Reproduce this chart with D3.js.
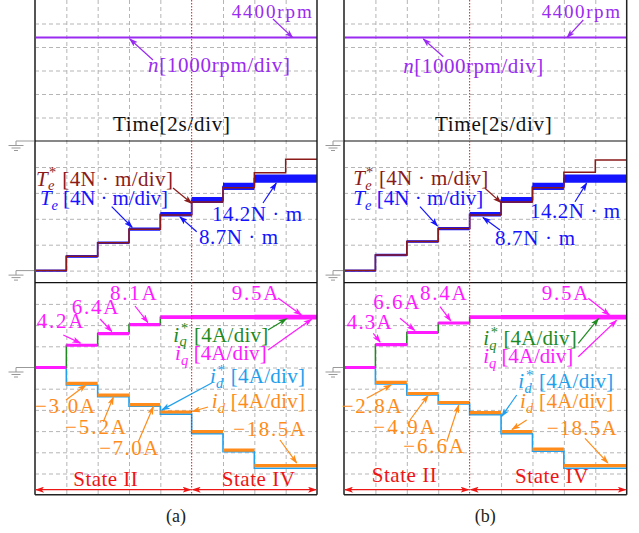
<!DOCTYPE html>
<html>
<head>
<meta charset="utf-8">
<script src="https://cdn.jsdelivr.net/npm/d3@7"></script>
<style>
  html, body { margin: 0; padding: 0; background: #fff; }
  svg { display: block; }
</style>
</head>
<body>
<svg id="chart" width="639" height="533" font-family="'Liberation Serif', 'DejaVu Serif', serif"></svg>
<script>
// ---- time base: 2 s per division, 9 divisions ----
const timeDomain = [0, 18];
const gridTimes = [2, 4, 6, 8, 10, 12, 14, 16];
const stepTimes = [0, 2, 4, 6, 8, 10, 12, 14, 16];
const endTime = 18;

// ---- speed n [rpm] ----
const speedTimes = [0, 18];
const speedA = [4400, 4400];
const speedB = [4400, 4400];

// ---- torque [N·m], one value per step interval ----
const teRefA = [0, 2.2, 4.3, 6.4, 8.6, 10.6, 12.8, 15.1, 17.2];
const teA    = [0, 2.2, 4.3, 6.4, 8.7, 10.9, 13.0, 14.2, 14.2];
const teRefB = [0, 2.4, 4.5, 6.5, 8.6, 10.6, 12.8, 15.2, 17.1];
const teB    = [0, 2.4, 4.5, 6.5, 8.7, 10.9, 13.0, 14.2, 14.2];
const teRipple = [0.15, 0.2, 0.2, 0.25, 0.35, 0.45, 0.55, 0.65, 0.65];

// ---- dq currents [A], one value per step interval ----
const iqA    = [0, 4.2, 6.4, 8.1, 9.5, 9.5, 9.5, 9.5, 9.5];
const iqRefA = [0, 4.2, 6.4, 8.1, 9.5, 9.4, 9.3, 9.3, 9.3];
const idA    = [0, -3.0, -5.2, -7.0, -8.4, -12.1, -15.6, -18.5, -18.5];
const idRefA = [0, -3.3, -5.5, -7.3, -8.8, -12.5, -15.9, -19.0, -19.0];
const iqB    = [0, 4.3, 6.6, 8.4, 9.5, 9.5, 9.5, 9.5, 9.5];
const iqRefB = [0, 4.3, 6.6, 8.4, 9.5, 9.4, 9.3, 9.3, 9.3];
const idB    = [0, -2.8, -4.9, -6.6, -8.5, -12.1, -15.4, -18.5, -18.5];
const idRefB = [0, -3.1, -5.2, -6.9, -8.9, -12.5, -15.8, -19.0, -19.0];
const iqRipple = [0.3, 0.3, 0.3, 0.3, 0.35, 0.4, 0.4, 0.45, 0.45];
const idRipple = [0.3, 0.3, 0.3, 0.3, 0.3, 0.3, 0.3, 0.3, 0.3];

// ---- scope grid per channel ----
const speedGrid = [1000, 2000, 3000, 4000, 5000];
const teGrid = [0, 4, 8, 12, 16];
const iGrid = [12, 8, 4, 0, -4, -8, -12, -16, -20];

// mode boundary time for each panel
const stateSwitchA = 10;
const stateSwitchB = 8;

// ---- vertical channel scales (shared by both panels) ----
const ySpeed = d3.scaleLinear().domain([0, 1000]).range([141, 117.5]);
const yTe = d3.scaleLinear().domain([0, 4]).range([270.6, 244.7]);
const yI = d3.scaleLinear().domain([0, 4]).range([367.5, 346.3]);
const secTop = 0, div1 = ySpeed(0), div2 = yI(16), secBottom = yI(-24);

const FONT = "'Liberation Serif', 'DejaVu Serif', serif";
const COL = {
  speed: "#9a2bf0", teRef: "#8b1a1a", te: "#1414ff",
  iq: "#ff1aff", iqRef: "#1f8a1f", idRef: "#22a0ee", id: "#ff8c1a",
  state: "#ee1515", grid: "#b5b5b5", ground: "#999"
};

const svg = d3.select("#chart");
const defs = svg.append("defs");
const markerIds = {};
function arrowHead(color) {
  if (markerIds[color]) return markerIds[color];
  const id = "ah" + Object.keys(markerIds).length;
  defs.append("marker").attr("id", id)
    .attr("viewBox", "0 -3 9 6").attr("refX", 8).attr("refY", 0)
    .attr("markerWidth", 9).attr("markerHeight", 6)
    .attr("markerUnits", "userSpaceOnUse")
    .attr("orient", "auto-start-reverse")
    .append("path").attr("d", "M0,-3 L9,0 L0,3 L2.2,0 Z").attr("fill", color);
  markerIds[color] = id;
  return id;
}

const fmt1 = d3.format(".1f");

// text with italic symbols, subscripts and superscripts
function richText(g, x, y, parts, color, width, size) {
  const t = g.append("text").attr("x", x).attr("y", y)
    .attr("font-family", FONT)
    .attr("fill", color).attr("font-size", size || 21);
  let shift = 0;
  parts.forEach(p => {
    const target = p.sub ? 4.5 : p.sup ? -8.5 : 0;
    const ts = t.append("tspan").text(p.s).attr("dy", target - shift);
    if (p.dx) ts.attr("dx", p.dx);
    if (p.sub || p.sup) ts.attr("font-size", 14.5);
    if (p.it) ts.attr("font-style", "italic");
    shift = target;
  });
  if (width) t.attr("textLength", width).attr("lengthAdjust", "spacing");
  return t;
}

function stepPoints(values) {
  const pts = values.map((v, i) => [stepTimes[i], v]);
  pts.push([endTime, values[values.length - 1]]);
  return pts;
}

function styleGrid(sel) {
  sel.select(".domain").remove();
  sel.selectAll(".tick line").attr("stroke", COL.grid).attr("stroke-width", 1)
    .attr("stroke-dasharray", "4,3");
}

function drawPanel(cfg) {
  const { x0, x1, stateT, gOff, sp, te, teRef, iq, iqRef, id, idRef, notes, tag } = cfg;
  const x = d3.scaleLinear().domain(timeDomain).range([x0, x1]);
  const w = x1 - x0;
  const g = svg.append("g");

  // dashed grid
  g.append("g").attr("transform", `translate(${x0},0)`)
    .call(d3.axisLeft(ySpeed).tickValues(speedGrid).tickSize(-w).tickFormat("")).call(styleGrid);
  g.append("g").attr("transform", `translate(${x0},0)`)
    .call(d3.axisLeft(yTe).tickValues(teGrid).tickSize(-w).tickFormat("")).call(styleGrid);
  g.append("g").attr("transform", `translate(${x0},0)`)
    .call(d3.axisLeft(yI).tickValues(iGrid).tickSize(-w).tickFormat("")).call(styleGrid);
  g.append("g").attr("transform", `translate(0,${secTop})`)
    .call(d3.axisTop(x).tickValues(gridTimes.filter(t => t !== stateT))
      .tickSize(-(secBottom - secTop)).tickFormat("")).call(styleGrid);

  // ground (zero) markers
  [ySpeed(0), yTe(0), yI(0)].forEach(y0 => {
    const gx = x0 - gOff;
    const gg = g.append("g").attr("stroke", COL.ground).attr("stroke-width", 1).attr("fill", "none");
    gg.append("path").attr("d", `M${x0},${y0}H${gx}V${y0 + 4.5}`);
    gg.append("line").attr("x1", gx - 7.5).attr("x2", gx + 7.5).attr("y1", y0 + 4.5).attr("y2", y0 + 4.5);
    gg.append("line").attr("x1", gx - 4.5).attr("x2", gx + 4.5).attr("y1", y0 + 7).attr("y2", y0 + 7);
    gg.append("line").attr("x1", gx - 2).attr("x2", gx + 2).attr("y1", y0 + 9.5).attr("y2", y0 + 9.5);
  });

  // speed trace
  g.append("path").datum(speedTimes.map((t, i) => [t, sp[i]]))
    .attr("d", d3.line().x(d => x(d[0])).y(d => ySpeed(d[1])))
    .attr("fill", "none").attr("stroke", COL.speed).attr("stroke-width", 2);

  const stepLine = ys => d3.line().curve(d3.curveStepAfter).x(d => x(d[0])).y(d => ys(d[1]));
  const band = (ys, vals, rip) => {
    const pts = vals.map((v, i) => [stepTimes[i], v, rip[i]]);
    pts.push([endTime, vals[vals.length - 1], rip[rip.length - 1]]);
    return d3.area().curve(d3.curveStepAfter).x(d => x(d[0]))
      .y0(d => ys(d[1] - d[2])).y1(d => ys(d[1] + d[2]))(pts);
  };

  // torque: measured band, then reference on top
  g.append("path").attr("d", band(yTe, te, teRipple)).attr("fill", COL.te);
  g.append("path").datum(stepPoints(te)).attr("d", stepLine(yTe))
    .attr("fill", "none").attr("stroke", COL.te).attr("stroke-width", 1.6);
  g.append("path").datum(stepPoints(teRef)).attr("d", stepLine(yTe))
    .attr("fill", "none").attr("stroke", COL.teRef).attr("stroke-width", 1.5);

  // currents: references underneath, measured bands over them (q-axis drawn last)
  g.append("path").datum(stepPoints(idRef)).attr("d", stepLine(yI))
    .attr("fill", "none").attr("stroke", COL.idRef).attr("stroke-width", 1.6);
  g.append("path").attr("d", band(yI, id, idRipple)).attr("fill", COL.id);
  g.append("path").datum(stepPoints(iqRef)).attr("d", stepLine(yI))
    .attr("fill", "none").attr("stroke", COL.iqRef).attr("stroke-width", 1.5);
  g.append("path").attr("d", band(yI, iq, iqRipple)).attr("fill", COL.iq);

  // frame and channel separators
  g.append("line").attr("x1", x0).attr("x2", x0).attr("y1", secTop).attr("y2", secBottom)
    .attr("stroke", "#555").attr("stroke-width", 2);
  g.append("line").attr("x1", x1).attr("x2", x1).attr("y1", secTop).attr("y2", secBottom)
    .attr("stroke", "#222").attr("stroke-width", 1.5);
  g.append("line").attr("x1", x0).attr("x2", x1).attr("y1", secBottom).attr("y2", secBottom)
    .attr("stroke", "#222").attr("stroke-width", 1.5);
  [div1, div2].forEach(yy => g.append("line").attr("x1", x0).attr("x2", x1)
    .attr("y1", yy).attr("y2", yy).attr("stroke", "#111").attr("stroke-width", 1.2));

  // operating-state boundary
  const xs = x(stateT);
  g.append("line").attr("x1", xs).attr("x2", xs).attr("y1", secTop).attr("y2", secBottom)
    .attr("stroke", COL.state).attr("stroke-width", 1).attr("stroke-dasharray", "1.5,1.5");
  const am = arrowHead(COL.state);
  const yArr = secBottom - 5;
  [[x0 + 1, xs - 1], [xs + 1, x1 - 1]].forEach(([a, b]) => {
    g.append("line").attr("x1", a).attr("x2", b).attr("y1", yArr).attr("y2", yArr)
      .attr("stroke", COL.state).attr("stroke-width", 1.2)
      .attr("marker-start", `url(#${am})`).attr("marker-end", `url(#${am})`);
  });

  // annotations
  const yOf = { speed: ySpeed, te: yTe, i: yI };
  notes.forEach(n => {
    const parts = typeof n.text === "string" ? [{ s: n.text }] : n.text;
    richText(g, x0 + n.lx, n.ly, parts, n.color, n.w, n.size);
    if (n.tail) {
      g.append("line")
        .attr("x1", x0 + n.tail[0]).attr("y1", n.tail[1])
        .attr("x2", x(n.tip[0])).attr("y2", yOf[n.sec](n.tip[1]))
        .attr("stroke", n.color).attr("stroke-width", 1.2)
        .attr("marker-end", `url(#${arrowHead(n.color)})`);
    }
  });

  g.append("text").attr("x", (x0 + x1) / 2).attr("y", 521.5).attr("text-anchor", "middle")
    .attr("font-family", FONT).attr("font-size", 18).attr("fill", "#222").text(tag);
}

const teRefLabel = [{ s: "T", it: true }, { s: "e", it: true, sub: true }, { s: "*", sup: true, dx: -6 }, { s: " [4N · m/div]" }];
const teLabel = [{ s: "T", it: true }, { s: "e", it: true, sub: true }, { s: " [4N · m/div]" }];
const iqRefLabel = [{ s: "i", it: true }, { s: "q", it: true, sub: true }, { s: "*", sup: true, dx: -6 }, { s: " [4A/div]" }];
const iqLabel = [{ s: "i", it: true }, { s: "q", it: true, sub: true }, { s: " [4A/div]" }];
const idRefLabel = [{ s: "i", it: true }, { s: "d", it: true, sub: true }, { s: "*", sup: true, dx: -6 }, { s: " [4A/div]" }];
const idLabel = [{ s: "i", it: true }, { s: "d", it: true, sub: true }, { s: " [4A/div]" }];
const nLabel = [{ s: "n", it: true }, { s: "[1000rpm/div]" }];
const A = v => fmt1(v) + "A";
const Nm = v => fmt1(v) + "N · m";

drawPanel({
  x0: 35, x1: 317, stateT: stateSwitchA, gOff: 19, tag: "(a)",
  sp: speedA, te: teA, teRef: teRefA, iq: iqA, iqRef: iqRefA, id: idA, idRef: idRefA,
  notes: [
    { sec: "speed", text: speedA[0] + "rpm", color: COL.speed, lx: 196.7, ly: 18, w: 80, size: 19, tail: [238, 19], tip: [16.45, speedA[0]] },
    { sec: "speed", text: nLabel, color: COL.speed, lx: 113, ly: 71.5, w: 142, tail: [118, 60], tip: [6.05, speedA[0] - 60] },
    { sec: "speed", text: "Time[2s/div]", color: "#111", lx: 78, ly: 131, w: 117 },
    { sec: "te", text: teRefLabel, color: COL.teRef, lx: 1, ly: 185.5, w: 137, tail: [138, 188], tip: [10.0, 10.4] },
    { sec: "te", text: teLabel, color: COL.te, lx: 5, ly: 205, w: 128, tail: [76.7, 206.7], tip: [6.2, 6.7] },
    { sec: "te", text: Nm(teA[7]), color: COL.te, lx: 177, ly: 220.7, w: 90, tail: [228, 203], tip: [15.4, 13.5] },
    { sec: "te", text: Nm(teA[4]), color: COL.te, lx: 164, ly: 244, w: 79, tail: [161.7, 231.7], tip: [9.25, 8.3] },
    { sec: "i", text: A(iqA[1]), color: COL.iq, lx: 1.7, ly: 328.3, w: 46.6, tail: [28.3, 335], tip: [2.9, 4.6] },
    { sec: "i", text: A(iqA[2]), color: COL.iq, lx: 36.7, ly: 314, w: 46.6, tail: [65, 319], tip: [4.9, 6.8] },
    { sec: "i", text: A(iqA[3]), color: COL.iq, lx: 75, ly: 300, w: 46.7, tail: [100, 306], tip: [7.2, 8.5] },
    { sec: "i", text: A(iqA[8]), color: COL.iq, lx: 196.7, ly: 300, w: 46.6, tail: [243, 298], tip: [17.0, 9.9] },
    { sec: "i", text: iqRefLabel, color: COL.iqRef, lx: 138.3, ly: 341.7, w: 95, tail: [233, 330], tip: [16.05, 9.2] },
    { sec: "i", text: iqLabel, color: COL.iq, lx: 140, ly: 360, w: 91.7, tail: [233, 350], tip: [17.65, 9.1] },
    { sec: "i", text: idRefLabel, color: COL.idRef, lx: 175, ly: 383.3, w: 95, tail: [176.7, 383], tip: [8.1, -8.0] },
    { sec: "i", text: idLabel, color: COL.id, lx: 176.7, ly: 408.3, w: 93.3, tail: [173, 407], tip: [10.05, -8.3] },
    { sec: "i", text: A(idA[1]), color: COL.id, lx: 0, ly: 412.5, w: 60, tail: [31, 400], tip: [3.25, -3.3] },
    { sec: "i", text: A(idA[2]), color: COL.id, lx: 30, ly: 434.3, w: 61, tail: [68.3, 421.7], tip: [5.0, -5.6] },
    { sec: "i", text: A(idA[3]), color: COL.id, lx: 64.3, ly: 455, w: 59, tail: [103.3, 441.7], tip: [7.55, -7.4] },
    { sec: "i", text: A(idA[8]), color: COL.id, lx: 198.3, ly: 436, w: 71.7, tail: [245, 440], tip: [16.7, -18.0] },
    { sec: "i", text: "State II", color: COL.state, lx: 38.3, ly: 486, w: 64.4 },
    { sec: "i", text: "State IV", color: COL.state, lx: 186.7, ly: 486, w: 73.3 }
  ]
});

drawPanel({
  x0: 344, x1: 626.7, stateT: stateSwitchB, gOff: 11, tag: "(b)",
  sp: speedB, te: teB, teRef: teRefB, iq: iqB, iqRef: iqRefB, id: idB, idRef: idRefB,
  notes: [
    { sec: "speed", text: speedB[0] + "rpm", color: COL.speed, lx: 197.7, ly: 18, w: 78.3, size: 19, tail: [239.3, 20], tip: [14.2, speedB[0]] },
    { sec: "speed", text: nLabel, color: COL.speed, lx: 59.3, ly: 73, w: 140, tail: [99.3, 56.7], tip: [5.05, speedB[0] - 60] },
    { sec: "speed", text: "Time[2s/div]", color: "#111", lx: 91, ly: 131, w: 116.7 },
    { sec: "te", text: teRefLabel, color: COL.teRef, lx: 9.3, ly: 185, w: 135, tail: [141, 188.3], tip: [10.0, 10.5] },
    { sec: "te", text: teLabel, color: COL.te, lx: 9.3, ly: 205, w: 130, tail: [76, 206.7], tip: [5.95, 6.9] },
    { sec: "te", text: Nm(teB[7]), color: COL.te, lx: 186, ly: 218, w: 90, tail: [231, 201.7], tip: [15.45, 13.5] },
    { sec: "te", text: Nm(teB[4]), color: COL.te, lx: 151, ly: 245, w: 80, tail: [156, 230], tip: [8.85, 8.2] },
    { sec: "i", text: A(iqB[1]), color: COL.iq, lx: 2.7, ly: 329.3, w: 45, tail: [29.3, 333.3], tip: [2.3, 4.8] },
    { sec: "i", text: A(iqB[2]), color: COL.iq, lx: 29.3, ly: 309.3, w: 46, tail: [56, 318.3], tip: [4.5, 7.0] },
    { sec: "i", text: A(iqB[3]), color: COL.iq, lx: 76, ly: 300, w: 46.7, tail: [96, 306.7], tip: [6.8, 8.8] },
    { sec: "i", text: A(iqB[8]), color: COL.iq, lx: 197.7, ly: 300, w: 46.6, tail: [244.3, 298.3], tip: [16.9, 9.9] },
    { sec: "i", text: iqRefLabel, color: COL.iqRef, lx: 139.3, ly: 345, w: 93.4, tail: [234.3, 343.3], tip: [16.2, 9.2] },
    { sec: "i", text: iqLabel, color: COL.iq, lx: 139.3, ly: 363.3, w: 90, tail: [234.3, 356.7], tip: [17.35, 8.9] },
    { sec: "i", text: idRefLabel, color: COL.idRef, lx: 174.3, ly: 388.3, w: 95, tail: [172.7, 395], tip: [10.05, -9.2] },
    { sec: "i", text: idLabel, color: COL.id, lx: 176, ly: 408.3, w: 93.3, tail: [182.7, 420], tip: [10.7, -11.7] },
    { sec: "i", text: A(idB[1]), color: COL.id, lx: -2.3, ly: 412.5, w: 60, tail: [22.7, 398.3], tip: [3.0, -3.3] },
    { sec: "i", text: A(idB[2]), color: COL.id, lx: 29.3, ly: 434.3, w: 61.7, tail: [66, 420], tip: [5.35, -5.3] },
    { sec: "i", text: A(idB[3]), color: COL.id, lx: 59.3, ly: 453.3, w: 60.7, tail: [102.7, 441.7], tip: [7.3, -7.1] },
    { sec: "i", text: A(idB[8]), color: COL.id, lx: 202.7, ly: 435, w: 70, tail: [241, 438.3], tip: [16.8, -18.0] },
    { sec: "i", text: "State II", color: COL.state, lx: 27.7, ly: 482, w: 65 },
    { sec: "i", text: "State IV", color: COL.state, lx: 171, ly: 483.3, w: 73.3 }
  ]
});
</script>
</body>
</html>
